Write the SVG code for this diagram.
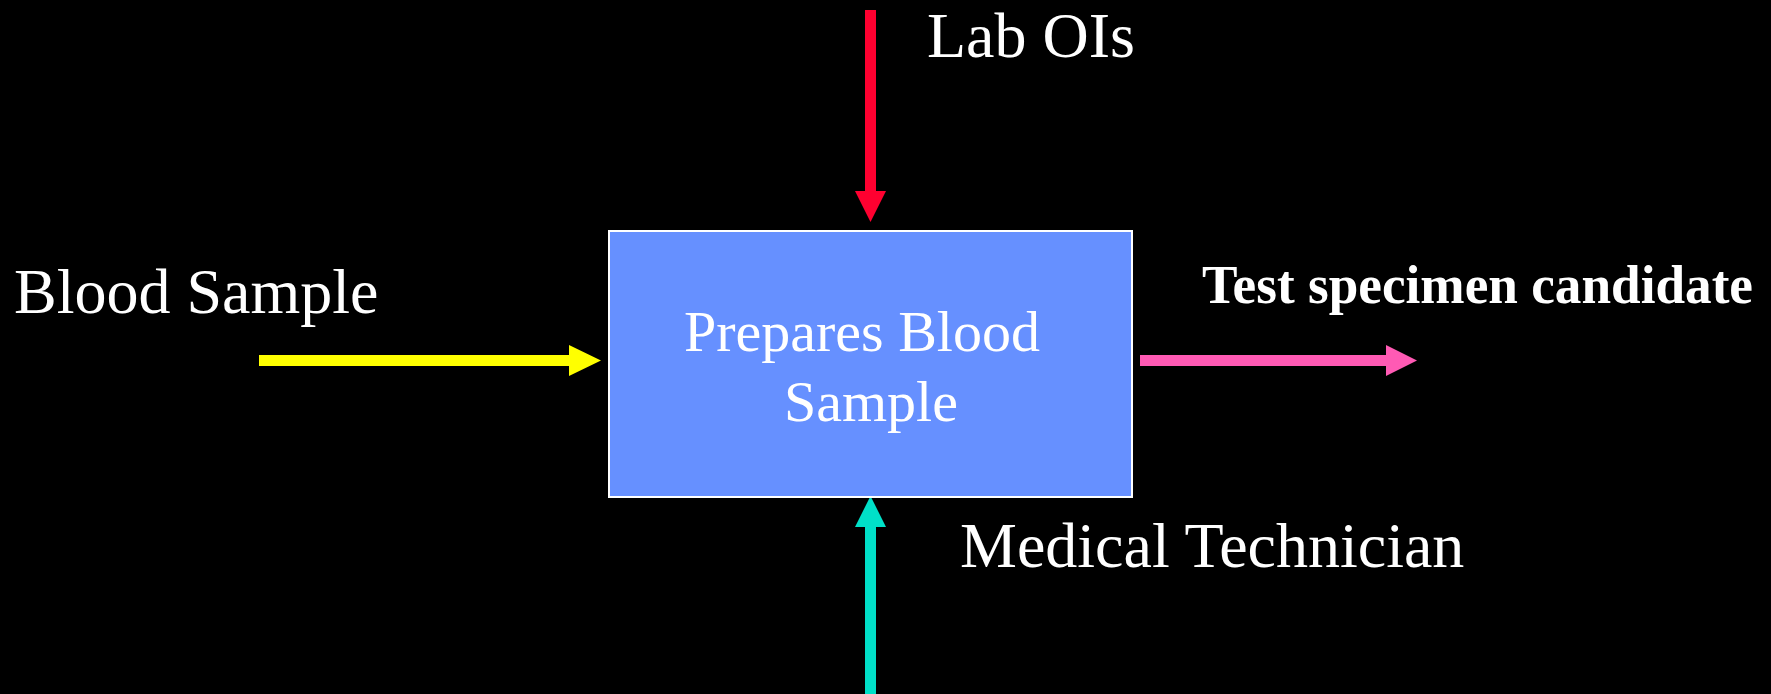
<svg xmlns="http://www.w3.org/2000/svg" width="1771" height="694" viewBox="0 0 1771 694">
<style>
.lbl{font-family:"Liberation Serif","Times New Roman",serif;fill:#ffffff;font-size:64px}
.inner{font-size:58px}
.bold{font-weight:bold;font-size:54px}
.box{fill:#6690ff;stroke:#ffffff;stroke-width:2}
.ln{stroke-width:11;fill:none}
</style>
<rect width="1771" height="694" fill="#000000"/>
<g id="connectors">
  <g id="lab-ois-arrow">
    <line class="ln" x1="870.5" y1="10" x2="870.5" y2="192" stroke="#ff0030"/>
    <polygon points="855,191 886,191 870.5,222" fill="#ff0030"/>
  </g>
  <g id="blood-sample-arrow">
    <line class="ln" x1="259" y1="360.5" x2="570" y2="360.5" stroke="#ffff00"/>
    <polygon points="569,345 569,376 601,360.5" fill="#ffff00"/>
  </g>
  <g id="output-arrow">
    <line class="ln" x1="1140" y1="360.5" x2="1387" y2="360.5" stroke="#ff5ab4"/>
    <polygon points="1386,345 1386,376 1417,360.5" fill="#ff5ab4"/>
  </g>
  <g id="technician-arrow">
    <line class="ln" x1="870.5" y1="526" x2="870.5" y2="694" stroke="#00e0c8"/>
    <polygon points="855,527 886,527 870.5,496" fill="#00e0c8"/>
  </g>
</g>
<g id="process">
  <rect class="box" x="609" y="231" width="523" height="266"/>
  <text class="lbl inner" x="862" y="351" text-anchor="middle">Prepares Blood</text>
  <text class="lbl inner" x="871" y="421" text-anchor="middle">Sample</text>
</g>
<g id="label-lab-ois">
  <text class="lbl" x="927" y="57">Lab OIs</text>
</g>
<g id="label-blood-sample">
  <text class="lbl" x="14" y="313">Blood Sample</text>
</g>
<g id="label-output">
  <text class="lbl bold" x="1202" y="303" textLength="551" lengthAdjust="spacingAndGlyphs">Test specimen candidate</text>
</g>
<g id="label-technician">
  <text class="lbl" x="960" y="567">Medical Technician</text>
</g>
</svg>
